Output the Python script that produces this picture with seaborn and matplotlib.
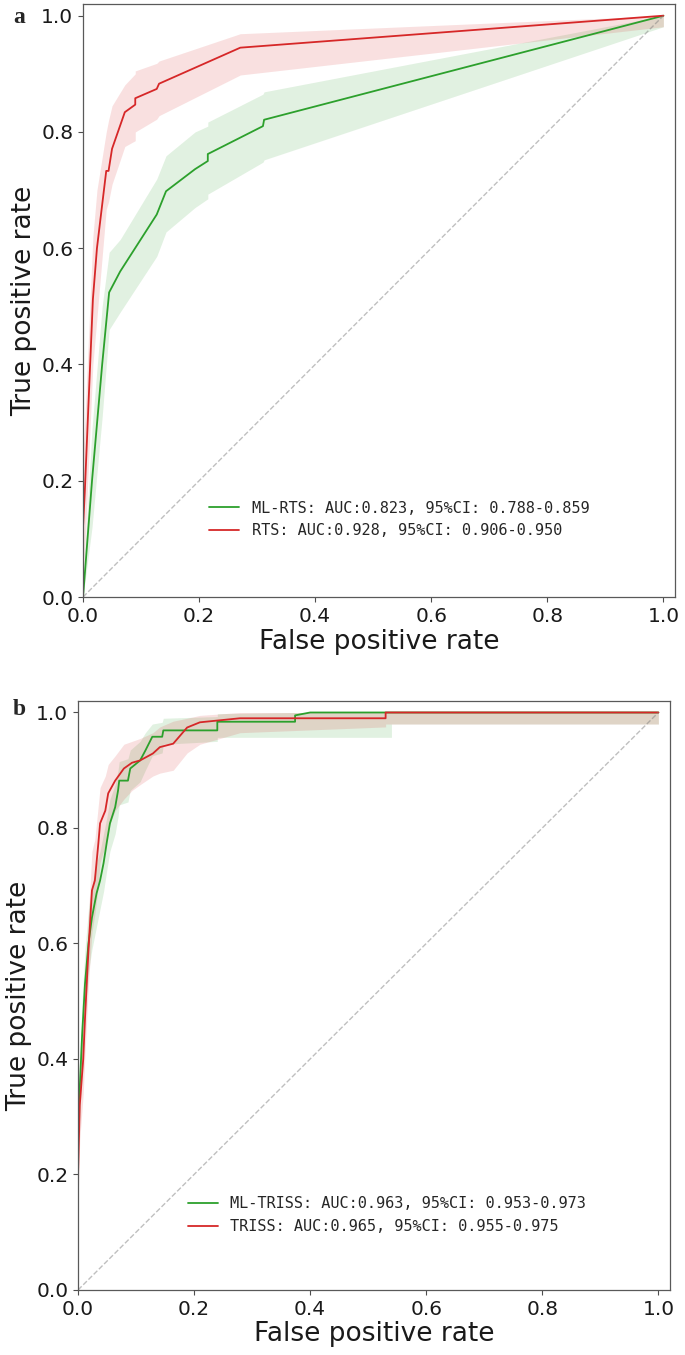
import numpy as np
import pandas as pd
import matplotlib
matplotlib.use("Agg")
import matplotlib.pyplot as plt
import seaborn as sns

# Panel a: ML-RTS vs RTS
a_ml_fpr = [0, 0.0155, 0.033, 0.045, 0.064, 0.127, 0.143, 0.193, 0.215, 0.215, 0.31, 0.312, 1.0]
a_ml_tpr = [0, 0.20, 0.40, 0.524, 0.560, 0.658, 0.698, 0.736, 0.75, 0.762, 0.81, 0.821, 1.0]
a_ml_hi = [0.02, 0.29, 0.50, 0.593, 0.615, 0.719, 0.759, 0.80, 0.81, 0.817, 0.865, 0.869, 1.0]
a_ml_lo = [0, 0.12, 0.31, 0.46, 0.49, 0.586, 0.628, 0.67, 0.685, 0.693, 0.748, 0.752, 0.981]

a_rts_fpr = [0, 0, 0.003, 0.017, 0.024, 0.040, 0.044, 0.050, 0.072, 0.090, 0.090, 0.127, 0.131, 0.271, 1.0]
a_rts_tpr = [0, 0.12, 0.18, 0.512, 0.60, 0.733, 0.733, 0.771, 0.834, 0.847, 0.858, 0.874, 0.883, 0.945, 1.0]
a_rts_hi = [0, 0.25, 0.30, 0.62, 0.70, 0.80, 0.82, 0.845, 0.881, 0.90, 0.905, 0.918, 0.922, 0.969, 1.0]
a_rts_lo = [0, 0.04, 0.08, 0.40, 0.48, 0.667, 0.68, 0.71, 0.775, 0.785, 0.80, 0.822, 0.828, 0.898, 0.981]

# Panel b: ML-TRISS vs TRISS
b_ml_fpr = [0, 0, 0.003, 0.007, 0.012, 0.018, 0.024, 0.032, 0.038, 0.044, 0.05, 0.055, 0.064,
            0.069, 0.071, 0.086, 0.09, 0.107, 0.116, 0.128, 0.145, 0.147, 0.24, 0.24, 0.374,
            0.374, 0.40, 0.54, 0.54, 1.0]
b_ml_tpr = [0, 0.30, 0.35, 0.44, 0.53, 0.60, 0.645, 0.687, 0.709, 0.739, 0.778, 0.808, 0.836,
            0.865, 0.882, 0.882, 0.903, 0.917, 0.934, 0.958, 0.958, 0.969, 0.969, 0.984, 0.984,
            0.995, 1.0, 1.0, 1.0, 1.0]
b_ml_lo = [0, 0.25, 0.30, 0.39, 0.48, 0.55, 0.59, 0.63, 0.66, 0.69, 0.73, 0.76, 0.79,
           0.82, 0.84, 0.845, 0.865, 0.88, 0.90, 0.925, 0.93, 0.945, 0.95, 0.957, 0.957,
           0.957, 0.957, 0.957, 0.98, 0.98]
b_ml_hi = [0, 0.35, 0.40, 0.50, 0.59, 0.66, 0.70, 0.74, 0.76, 0.79, 0.82, 0.85, 0.875,
           0.90, 0.915, 0.92, 0.935, 0.95, 0.965, 0.98, 0.983, 0.99, 0.993, 0.998, 1.0,
           1.0, 1.0, 1.0, 1.0, 1.0]

b_tr_fpr = [0, 0, 0.003, 0.009, 0.012, 0.016, 0.018, 0.024, 0.029, 0.035, 0.038, 0.047, 0.052,
            0.064, 0.079, 0.093, 0.107, 0.129, 0.141, 0.164, 0.188, 0.21, 0.279, 0.53, 0.53, 1.0]
b_tr_tpr = [0, 0.20, 0.32, 0.40, 0.47, 0.55, 0.588, 0.692, 0.709, 0.773, 0.808, 0.83, 0.86,
            0.882, 0.903, 0.913, 0.917, 0.929, 0.94, 0.946, 0.974, 0.983, 0.99, 0.99, 1.0, 1.0]
b_tr_lo = [0, 0.15, 0.26, 0.34, 0.41, 0.49, 0.53, 0.62, 0.65, 0.70, 0.74, 0.77, 0.80,
           0.83, 0.85, 0.865, 0.875, 0.89, 0.895, 0.90, 0.93, 0.945, 0.965, 0.975, 0.98, 0.98]
b_tr_hi = [0, 0.25, 0.38, 0.46, 0.53, 0.61, 0.65, 0.76, 0.78, 0.84, 0.87, 0.89, 0.91,
           0.925, 0.945, 0.95, 0.955, 0.965, 0.975, 0.985, 0.99, 0.995, 1.0, 1.0, 1.0, 1.0]

diag = [0, 1]
ticks = [0.0, 0.2, 0.4, 0.6, 0.8, 1.0]

labels_a = ["ML-RTS: AUC:0.823, 95%CI: 0.788-0.859", "RTS: AUC:0.928, 95%CI: 0.906-0.950"]
labels_b = ["ML-TRISS: AUC:0.963, 95%CI: 0.953-0.973", "TRISS: AUC:0.965, 95%CI: 0.955-0.975"]

sns.set_style("ticks")
plt.rcParams['font.family'] = ['DejaVu Sans']

GREEN = "#2ca02c"
RED = "#d62728"


def draw_panel(ax, curves, legend_anchor):
    for fpr, tpr, lo, hi, color, label in curves:
        df = pd.DataFrame({"fpr": fpr, "tpr": tpr})
        sns.lineplot(data=df, x="fpr", y="tpr", sort=False, estimator=None,
                     color=color, lw=1.3, label=label, ax=ax)
        ax.fill_between(fpr, lo, hi, color=color, alpha=0.14, lw=0)
    ax.plot(diag, diag, linestyle="--", color="grey", alpha=0.5, lw=1)
    ax.set_xlim(0, 1.02)
    ax.set_ylim(0, 1.02)
    ax.set_xticks(ticks)
    ax.set_yticks(ticks)
    ax.tick_params(labelsize=14.5, length=3.5, width=0.8, color="0.3", labelcolor="0.1")
    for s in ax.spines.values():
        s.set_color("0.35")
        s.set_linewidth(0.9)
    ax.set_xlabel("False positive rate", fontsize=19, color="0.1", labelpad=2)
    ax.set_ylabel("True positive rate", fontsize=19, color="0.1", labelpad=3)
    ax.legend(loc="center", bbox_to_anchor=legend_anchor, frameon=False,
              prop={"family": "DejaVu Sans Mono", "size": 11})


fig = plt.figure(figsize=(6.85, 13.55), dpi=100)
ax_a = fig.add_axes([0.1212, 0.5594, 0.8642, 0.4376])
ax_b = fig.add_axes([0.1139, 0.0480, 0.8642, 0.4347])

draw_panel(ax_a, [
    (a_ml_fpr, a_ml_tpr, a_ml_lo, a_ml_hi, GREEN, labels_a[0]),
    (a_rts_fpr, a_rts_tpr, a_rts_lo, a_rts_hi, RED, labels_a[1]),
], (0.534, 0.131))

draw_panel(ax_b, [
    (b_ml_fpr, b_ml_tpr, b_ml_lo, b_ml_hi, GREEN, labels_b[0]),
    (b_tr_fpr, b_tr_tpr, b_tr_lo, b_tr_hi, RED, labels_b[1]),
], (0.522, 0.127))

fig.text(13 / 685, 1 - 23 / 1355, "a", family="Liberation Serif", weight="bold",
         fontsize=17, va="baseline", ha="left")
fig.text(13 / 685, 1 - 715 / 1355, "b", family="Liberation Serif", weight="bold",
         fontsize=17, va="baseline", ha="left")

fig.savefig("out.png", dpi=100, facecolor="white")
